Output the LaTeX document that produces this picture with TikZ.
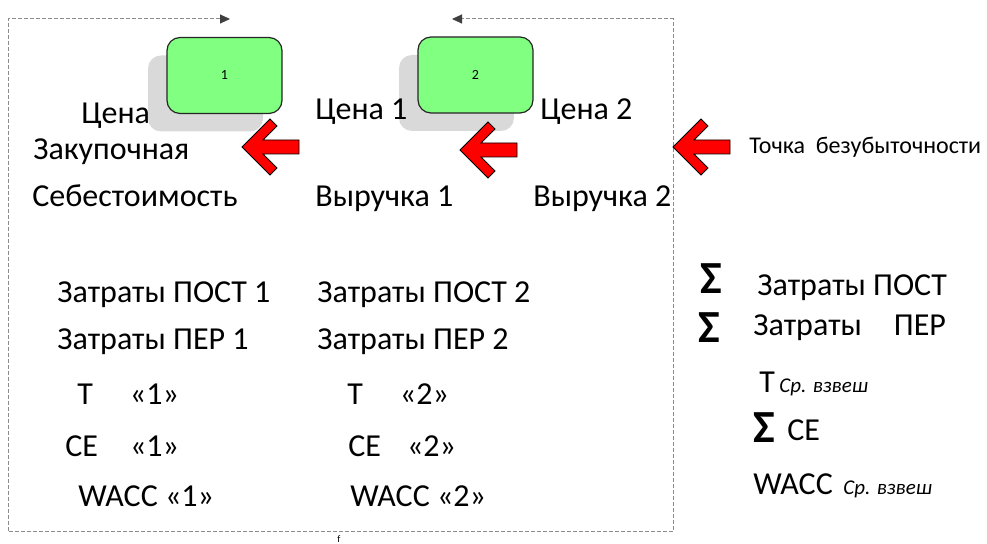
\documentclass[tikz,border=0pt]{standalone}
\usepackage{fontspec}
\setmainfont{Carlito}
\usetikzlibrary{arrows.meta,shadows}
\definecolor{boxgreen}{HTML}{80FF80}
\definecolor{shadowgray}{HTML}{D9D9D9}
\definecolor{framegray}{HTML}{8C8C8C}
\definecolor{tipgray}{HTML}{404040}
\tikzset{
  lbl/.style={anchor=base west, inner sep=0pt, font=\fontsize{16}{19}\selectfont},
  smalllbl/.style={anchor=base west, inner sep=0pt, font=\fontsize{12}{14}\selectfont},
  subl/.style={anchor=base west, inner sep=0pt, font=\fontsize{10.5}{12}\selectfont\itshape},
  sigma/.style={anchor=base west, inner sep=0pt, font=\fontsize{23}{26}\selectfont\bfseries},
  gbox/.style={draw=black!85, line width=0.6pt, fill=boxgreen, rounded corners=6.5pt,
    minimum width=57.5pt, minimum height=38pt, inner sep=0pt,
    font=\fontsize{7}{8}\selectfont,
    drop shadow={shadow xshift=-9.5pt, shadow yshift=-9pt, fill=shadowgray, opacity=1}},
  dashframe/.style={draw=framegray, line width=0.5pt, dash pattern=on 2pt off 1pt,
    {Triangle[length=5pt,width=4.5pt,color=tipgray]}-{Triangle[length=5pt,width=4.5pt,color=tipgray]}},
  redarrow/.pic={
    \draw[fill=red, draw=black, line width=0.4pt, line join=miter]
      (0,0) -- (28,-28) -- (35,-21) -- (21,-7) -- (57,-7) -- (57,7)
      -- (21,7) -- (35,21) -- (28,28) -- cycle;}
}
\begin{document}
\begin{tikzpicture}[x=0.5pt,y=-0.5pt]
\useasboundingbox (0,0) rectangle (987,544);

% dashed loop with the two inward arrows on top
\coordinate (fa) at (230,19);
\coordinate (fb) at (452,19);
\draw[dashframe] (fa) -- (8,19) -- (8,532) -- (673,532) -- (673,19) -- (fb);

% numbered boxes
\node[gbox] (b1) at (224.5,75.5) {1};
\node[gbox] (b2) at (475.5,75) {2};

% red block arrows
\pic at (242,147) {redarrow};
\pic at (460,150) {redarrow};
\pic at (673,147) {redarrow};

% upper labels
\node[lbl] (cena)  at (81,124)  {Цена};
\node[lbl] (zak)   at (33,160)  {Закупочная};
\node[lbl] (seb)   at (32,207)  {Себестоимость};
\node[lbl] (cena1) at (315,120) {Цена 1};
\node[lbl] (vyr1)  at (315,207) {Выручка 1};
\node[lbl] (cena2) at (540,120) {Цена 2};
\node[lbl] (vyr2)  at (533,207) {Выручка 2};
\node[smalllbl] (tb) at (749,154) {Точка\ \ безубыточности};

% first column
\node[lbl] (p1)  at (57,303)  {Затраты ПОСТ 1};
\node[lbl] (v1)  at (57,350)  {Затраты ПЕР 1};
\node[lbl] (t1)  at (77,405)  {Т\hspace{18.5pt}«1»};
\node[lbl] (ce1) at (65,457)  {CE\hspace{16pt}«1»};
\node[lbl] (w1)  at (78,507)  {WACC «1»};

% second column
\node[lbl] (p2)  at (317,303) {Затраты ПОСТ 2};
\node[lbl] (v2)  at (317,350) {Затраты ПЕР 2};
\node[lbl] (t2)  at (347,405) {Т\hspace{18.5pt}«2»};
\node[lbl] (ce2) at (348,457) {CE\hspace{13pt}«2»};
\node[lbl] (w2)  at (350,507) {WACC «2»};

% totals
\node[sigma] (s1) at (700,294) {Σ};
\node[lbl] (sp)   at (757,296) {Затраты ПОСТ};
\node[sigma] (s2) at (698,343) {Σ};
\node[lbl] (sv)   at (753,336) {Затраты\hspace{16pt}ПЕР};
\node[lbl] (tw)   at (759,393) {Т};
\node[subl] (twsub) at (779,393) {Ср. взвеш};
\node[sigma] (s3) at (753,443) {Σ};
\node[lbl] (ces)  at (787,441) {CE};
\node[lbl] (ww)   at (753,495) {WACC};
\node[subl] (wwsub) at (843,495) {Ср. взвеш};

% stray mark under the loop
\node[anchor=base, inner sep=0pt, font=\fontsize{5}{6}\selectfont] (fmark) at (339,543) {f};
\end{tikzpicture}
\end{document}
